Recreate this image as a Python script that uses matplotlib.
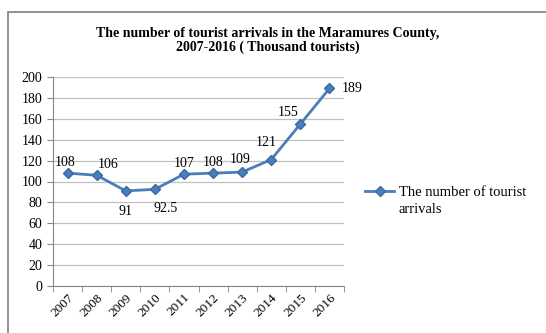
import matplotlib.pyplot as plt
from matplotlib.patches import Rectangle

years = ['2007', '2008', '2009', '2010', '2011', '2012', '2013', '2014', '2015', '2016']
arrivals = [108, 106, 91, 92.5, 107, 108, 109, 121, 155, 189]
value_labels = ['108', '106', '91', '92.5', '107', '108', '109', '121', '155', '189']

plt.rcParams['font.family'] = ['Liberation Serif', 'DejaVu Serif']

fig = plt.figure(figsize=(5.46, 3.33), dpi=100)
fig.patches.append(Rectangle((8 / 546, -0.05), 1.0, 1 - 12 / 333 + 0.05,
                             transform=fig.transFigure, fill=False,
                             edgecolor='#7f7f7f', linewidth=1.2))

ax = fig.add_axes([53 / 546, 1 - 286 / 333, 291 / 546, 209 / 333])
x = list(range(len(years)))
line, = ax.plot(x, arrivals, color='#4a7ebb', linewidth=2, marker='D',
                markersize=5.5, markerfacecolor='#4a7ebb', markeredgecolor='#3a6aa5',
                label='The number of tourist')

# label offsets (points) to mimic the Excel data label positions
offsets = [(-1.5, 8), (8.5, 8), (0, -15), (8, -13.5), (0, 8), (0, 8),
           (-1.5, 9), (-3.5, 12), (-8.5, 8), (16.5, 0)]
for xi, yi, lab, off in zip(x, arrivals, value_labels, offsets):
    ax.annotate(lab, (xi, yi), xytext=off, textcoords='offset points',
                ha='center', va='center', fontsize=10)

ax.set_xlim(-0.5, len(years) - 0.5)
ax.set_ylim(0, 200)
ax.set_yticks(range(0, 201, 20))
ax.set_xticks(x)
ax.set_xticklabels(years, rotation=45, ha='right', rotation_mode='anchor', fontsize=9.5)
ax.set_xticks([i + 0.5 for i in range(-1, len(years))], minor=True)
ax.tick_params(axis='x', which='major', length=0, pad=4)
ax.tick_params(axis='x', which='minor', length=4, color='#868686', direction='out')
ax.tick_params(axis='y', labelsize=10, length=4, color='#868686')
ax.grid(axis='y', color='#c0c0c0', linewidth=0.9)
ax.set_axisbelow(True)
for s in ['top', 'right']:
    ax.spines[s].set_visible(False)
for s in ['left', 'bottom']:
    ax.spines[s].set_color('#868686')

fig.text(268 / 546, 1 - 40 / 333, 'The number of tourist arrivals in the Maramures County,\n2007-2016 ( Thousand tourists)',
         ha='center', va='center', fontsize=10, fontweight='bold', linespacing=1.05)

# legend: handle next to first line, label wraps onto a second line
leg = fig.legend(handles=[line], loc='center left', bbox_to_anchor=(365 / 546, 1 - 192 / 333),
                 frameon=False, fontsize=10.5, handlelength=2, borderaxespad=0,
                 handletextpad=0.3, borderpad=0)
fig.canvas.draw()
bb = leg.get_texts()[0].get_window_extent().transformed(fig.transFigure.inverted())
fig.text(bb.x0, bb.y0 - 4 / 333, 'arrivals', ha='left', va='top', fontsize=10.5)

fig.savefig('out.png', dpi=100)
